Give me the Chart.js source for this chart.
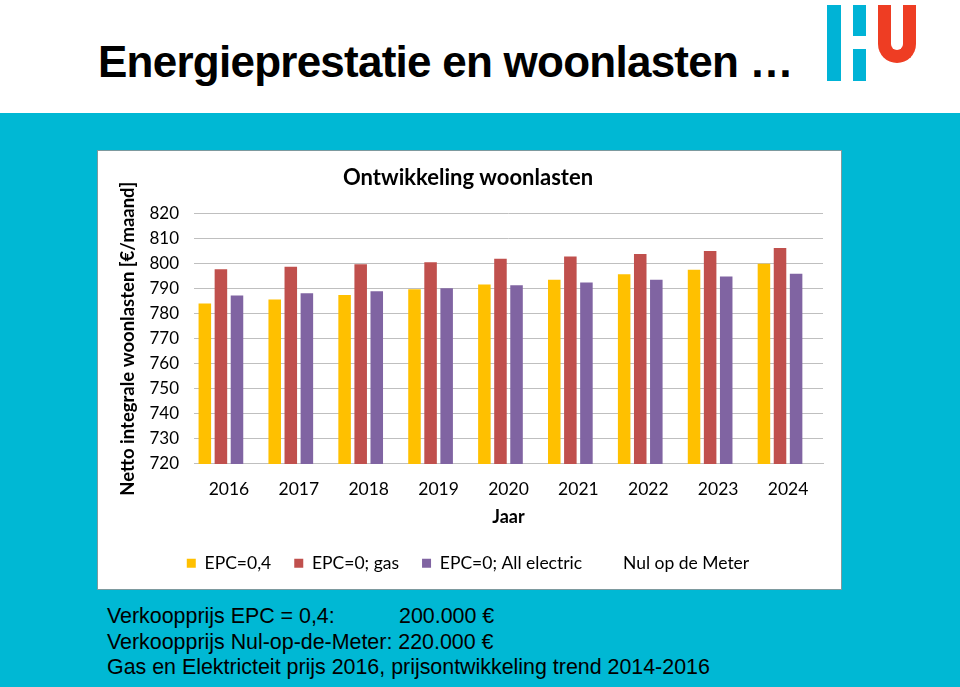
<!DOCTYPE html>
<html>
<head>
<meta charset="utf-8">
<script src="https://cdn.jsdelivr.net/npm/chart.js@4.4.1/dist/chart.umd.min.js"></script>
<style>
    html, body { margin: 0; padding: 0; }
    body { width: 960px; height: 687px; overflow: hidden; position: relative; background: #ffffff; font-family: "Liberation Sans", Arial, sans-serif; }
    #header { position: absolute; left: 0; top: 0; width: 960px; height: 113px; background: #ffffff; }
    #header h1 { position: absolute; left: 98px; top: 37px; margin: 0; font-size: 44px; font-weight: bold; color: #000; letter-spacing: -0.75px; white-space: nowrap; }
    .logo-bar { position: absolute; background: #00b3d6; }
    #logo-u { position: absolute; left: 878px; top: 5px; width: 12px; height: 45px; border: 13px solid #ee3d23; border-top: none; border-radius: 0 0 19px 19px; }
    #band { position: absolute; left: 0; top: 113px; width: 960px; height: 574px; background: #00b8d4; }
    #chartBox { position: absolute; left: 97px; top: 150px; width: 743px; height: 438px; background: #fff; border: 1px solid #7d9a9e; }
    #notes { position: absolute; left: 107px; top: 604px; font-size: 21.4px; line-height: 25.5px; color: #000; white-space: nowrap; }
    #notes .price { position: absolute; left: 292px; }
</style>
</head>
<body>
<div id="header">
    <h1>Energieprestatie en woonlasten …</h1>
    <div class="logo-bar" style="left:827px; top:5px; width:14px; height:76px;"></div>
    <div class="logo-bar" style="left:853px; top:5px; width:13px; height:31px;"></div>
    <div class="logo-bar" style="left:853px; top:49px; width:13px; height:32px;"></div>
    <div id="logo-u"></div>
</div>
<div id="band"></div>
<div id="chartBox"><canvas id="woonChart" width="743" height="438"></canvas></div>
<div id="notes">
    Verkoopprijs EPC = 0,4: <span class="price">200.000 €</span><br>
    Verkoopprijs Nul-op-de-Meter: 220.000 €<br>
    Gas en Elektricteit prijs 2016, prijsontwikkeling trend 2014-2016
</div>
<script>
const years = ['2016', '2017', '2018', '2019', '2020', '2021', '2022', '2023', '2024'];
const epc04 = [784, 785.6, 787.4, 789.7, 791.6, 793.5, 795.7, 797.5, 799.9];
const epc0Gas = [797.7, 798.7, 799.7, 800.5, 801.9, 802.8, 803.8, 805.0, 806.2];
const epc0Elec = [787.2, 788.1, 788.9, 790.1, 791.3, 792.4, 793.5, 794.8, 795.9];
const nulOpDeMeter = [null, null, null, null, null, null, null, null, null];

const chartFont = 'Lato, "Open Sans", sans-serif';

const ctx = document.getElementById('woonChart').getContext('2d');
new Chart(ctx, {
    type: 'bar',
    data: {
        labels: years,
        datasets: [
            { label: 'EPC=0,4', data: epc04, backgroundColor: '#ffc000' },
            { label: 'EPC=0; gas', data: epc0Gas, backgroundColor: '#c0504d' },
            { label: 'EPC=0; All electric', data: epc0Elec, backgroundColor: '#8064a2' },
            { label: 'Nul op de Meter', data: nulOpDeMeter, backgroundColor: 'rgba(0,0,0,0)' }
        ]
    },
    options: {
        responsive: false,
        animation: false,
        barPercentage: 0.78,
        categoryPercentage: 0.92,
        layout: { padding: { left: 15, right: 18, top: 14, bottom: 7 } },
        plugins: {
            title: {
                display: true,
                text: 'Ontwikkeling woonlasten',
                color: '#000',
                font: { family: chartFont, size: 22, weight: 'bold' },
                padding: { top: 0, bottom: 22 }
            },
            legend: {
                position: 'bottom',
                labels: {
                    color: '#000',
                    font: { family: chartFont, size: 17.5 },
                    boxWidth: 9,
                    boxHeight: 9,
                    padding: 23
                }
            },
            tooltip: { enabled: false }
        },
        scales: {
            x: {
                grid: { display: false },
                border: { color: '#bfbfbf' },
                ticks: { color: '#000', font: { family: chartFont, size: 17.5 }, padding: 6.5 },
                title: { display: true, text: 'Jaar', color: '#000', font: { family: chartFont, size: 18, weight: 'bold' }, padding: { top: 0 } }
            },
            y: {
                min: 720,
                max: 820,
                ticks: { stepSize: 10, color: '#000', font: { family: chartFont, size: 17 }, padding: 15 },
                grid: { color: '#bfbfbf', drawTicks: false },
                border: { display: false },
                title: { display: true, text: 'Netto integrale woonlasten [€/maand]', color: '#000', font: { family: chartFont, size: 18.5, weight: 'bold' }, padding: { bottom: 8 } },
                afterFit: (scale) => { scale.width = 81; }
            }
        }
    }
});
</script>
</body>
</html>
